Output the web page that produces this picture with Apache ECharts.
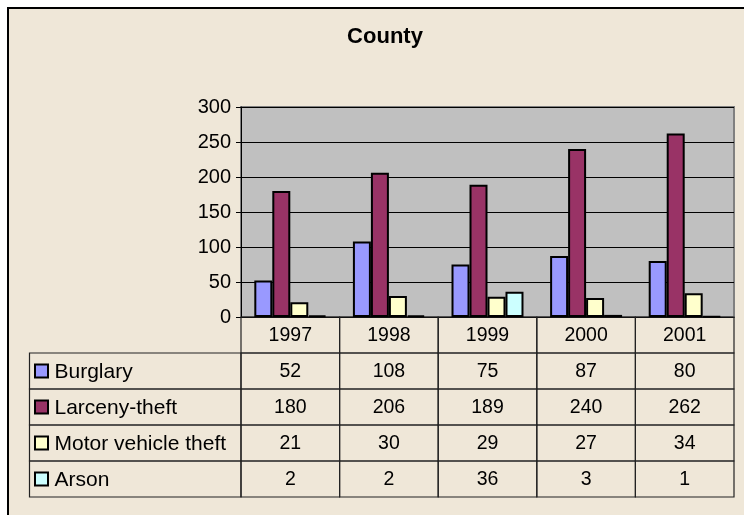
<!DOCTYPE html>
<html>
<head>
<meta charset="utf-8">
<script src="https://cdn.jsdelivr.net/npm/echarts@6/dist/echarts.min.js"></script>
<style>
  body { margin: 0; background: #fff; overflow: hidden; }
  #frame {
    position: absolute; left: 7px; top: 7px; right: 0; bottom: 0;
    background: #EFE7D8;
    border-left: 2px solid #000; border-top: 2px solid #000;
  }
  #chart { position: absolute; left: 0; top: 0; width: 744px; height: 515px; }
</style>
</head>
<body>
<div id="frame"></div>
<div id="chart"></div>
<script>
// data
const years = ['1997', '1998', '1999', '2000', '2001'];
const burglary = [52, 108, 75, 87, 80];
const larceny = [180, 206, 189, 240, 262];
const motorVehicle = [21, 30, 29, 27, 34];
const arson = [2, 2, 36, 3, 1];
const seriesNames = ['Burglary', 'Larceny-theft', 'Motor vehicle theft', 'Arson'];
const seriesColors = ['#9999FF', '#993366', '#FFFFCC', '#CCFFFF'];
const yMin = 0, yMax = 300, yStep = 50;

const allValues = [burglary, larceny, motorVehicle, arson];
const font = '"Liberation Sans", Arial, sans-serif';
const labelColWidth = 211.5;

// table cells: header row (years) + one row per series with its key in the first column
let cells = [];
years.forEach((y, c) => cells.push({ col: c, row: 0, text: y }));
allValues.forEach((vals, r) => {
  cells.push({ col: -1, row: r + 1, text: seriesNames[r], key: seriesColors[r] });
  vals.forEach((v, c) => cells.push({ col: c, row: r + 1, text: String(v) }));
});

function renderCell(params, api) {
  const cell = cells[params.dataIndex];
  const a = api.coord([Math.max(cell.col, 0), cell.row]);
  const b = api.coord([Math.max(cell.col, 0) + 1, cell.row + 1]);
  let x0 = a[0], x1 = b[0];
  if (cell.col < 0) { x1 = a[0]; x0 = a[0] - labelColWidth; }
  const y0 = a[1], y1 = b[1];
  const children = [{
    type: 'rect',
    shape: { x: x0, y: y0, width: x1 - x0, height: y1 - y0 },
    style: { fill: 'none', stroke: '#222', lineWidth: 1.2 }
  }];
  if (cell.key) {
    children.push({
      type: 'rect',
      shape: { x: x0 + 5.5, y: (y0 + y1) / 2 - 6.5, width: 13, height: 13 },
      style: { fill: cell.key, stroke: '#000', lineWidth: 2 }
    });
    children.push({
      type: 'text',
      style: {
        x: x0 + 25, y: (y0 + y1) / 2 + 1, text: cell.text,
        font: '21px ' + font, fill: '#000',
        textAlign: 'left', textVerticalAlign: 'middle'
      }
    });
  } else {
    children.push({
      type: 'text',
      style: {
        x: (x0 + x1) / 2, y: (y0 + y1) / 2 + 1, text: cell.text,
        font: '19.5px ' + font, fill: '#000',
        textAlign: 'center', textVerticalAlign: 'middle'
      }
    });
  }
  return { type: 'group', children: children };
}

const chart = echarts.init(document.getElementById('chart'), null, { renderer: 'canvas' });

const barSeries = allValues.map((vals, i) => ({
  name: seriesNames[i],
  type: 'bar',
  xAxisIndex: 0,
  yAxisIndex: 0,
  barGap: '0%',
  barCategoryGap: '27%',
  itemStyle: { color: seriesColors[i], borderColor: '#000', borderWidth: 2 },
  data: vals
}));

chart.setOption({
  animation: false,
  backgroundColor: 'transparent',
  title: {
    text: 'County',
    left: 385,
    top: 26,
    padding: 0,
    textAlign: 'center',
    textStyle: { fontFamily: font, fontSize: 22, fontWeight: 'bold', color: '#000' }
  },
  grid: [
    { left: 241, top: 107, width: 493, height: 210, show: true,
      backgroundColor: '#C0C0C0', borderColor: '#808080', borderWidth: 2 },
    { left: 241, top: 317, width: 493, height: 180 }
  ],
  xAxis: [
    { type: 'category', gridIndex: 0, data: years,
      axisLine: { lineStyle: { color: '#000', width: 1 } },
      axisTick: { show: false }, axisLabel: { show: false } },
    { type: 'value', gridIndex: 1, min: 0, max: years.length, show: false }
  ],
  yAxis: [
    { type: 'value', gridIndex: 0, min: yMin, max: yMax, interval: yStep,
      axisLine: { show: true, lineStyle: { color: '#000', width: 1 } },
      axisTick: { show: true, length: 5, lineStyle: { color: '#000' } },
      axisLabel: { color: '#000', fontFamily: font, fontSize: 20, margin: 10 },
      splitLine: { lineStyle: { color: '#000', width: 1 } } },
    { type: 'value', gridIndex: 1, min: 0, max: seriesNames.length + 1, inverse: true, show: false }
  ],
  series: barSeries.concat([{
    type: 'custom',
    xAxisIndex: 1,
    yAxisIndex: 1,
    renderItem: renderCell,
    data: cells.map(c => [c.col, c.row]),
    silent: true
  }])
});
</script>
</body>
</html>
